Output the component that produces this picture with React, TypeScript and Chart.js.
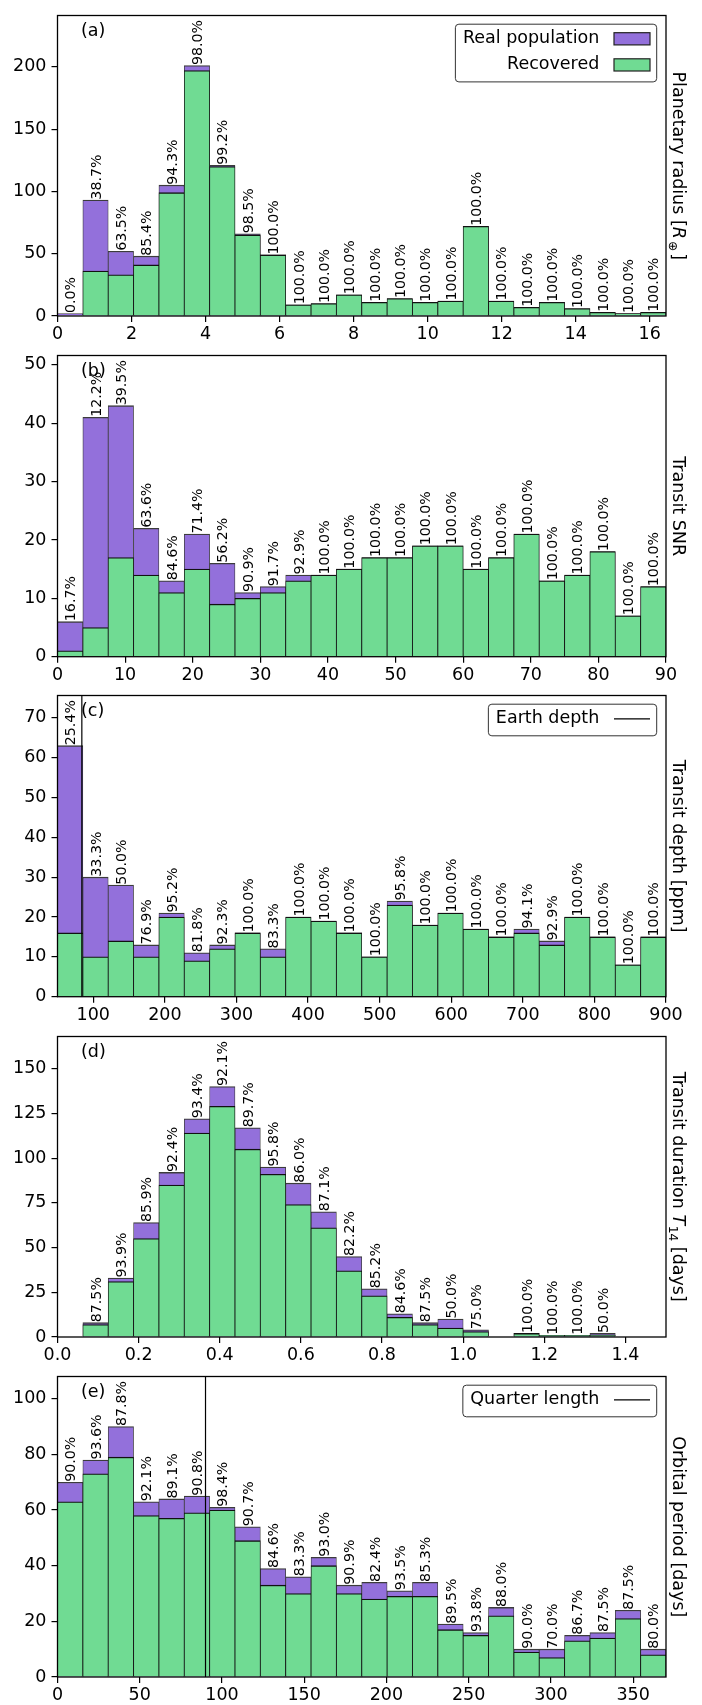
import React, { useEffect, useRef } from "react";
import { Chart, registerables } from "chart.js";

Chart.register(...registerables);

const FONT = '"DejaVu Sans", sans-serif';
const PURPLE = "#9370DB";
const GREEN = "#70DB93";

// ---------- (a) Planetary radius ----------
const radiusReal = [2, 93, 52, 48, 105, 201, 121, 66, 49, 9, 10, 17, 11, 14, 11, 12, 72, 12, 7, 11, 6, 3, 2, 3];
const radiusRecovered = [0, 36, 33, 41, 99, 197, 120, 65, 49, 9, 10, 17, 11, 14, 11, 12, 72, 12, 7, 11, 6, 3, 2, 3];
const radiusRange = [0, 16.44];
const radiusXTicks = [0, 2, 4, 6, 8, 10, 12, 14, 16];
const radiusYTicks = [0, 50, 100, 150, 200];

// ---------- (b) Transit SNR ----------
const snrReal = [6, 41, 43, 22, 13, 21, 16, 11, 12, 14, 14, 15, 17, 17, 19, 19, 15, 17, 21, 13, 14, 18, 7, 12];
const snrRecovered = [1, 5, 17, 14, 11, 15, 9, 10, 11, 13, 14, 15, 17, 17, 19, 19, 15, 17, 21, 13, 14, 18, 7, 12];
const snrRange = [0, 90];
const snrXTicks = [0, 10, 20, 30, 40, 50, 60, 70, 80, 90];
const snrYTicks = [0, 10, 20, 30, 40, 50];

// ---------- (c) Transit depth ----------
const depthReal = [63, 30, 28, 13, 21, 11, 13, 16, 12, 20, 19, 16, 10, 24, 18, 21, 17, 15, 17, 14, 20, 15, 8, 15];
const depthRecovered = [16, 10, 14, 10, 20, 9, 12, 16, 10, 20, 19, 16, 10, 23, 18, 21, 17, 15, 16, 13, 20, 15, 8, 15];
const depthRange = [50, 900];
const depthXTicks = [100, 200, 300, 400, 500, 600, 700, 800, 900];
const depthYTicks = [0, 10, 20, 30, 40, 50, 60, 70];
const earthDepth = 84;

// ---------- (d) Transit duration ----------
const durationReal = [0, 8, 33, 64, 92, 122, 140, 117, 95, 86, 70, 45, 27, 13, 8, 10, 4, 0, 2, 1, 1, 2, 0, 0];
const durationRecovered = [0, 7, 31, 55, 85, 114, 129, 105, 91, 74, 61, 37, 23, 11, 7, 5, 3, 0, 2, 1, 1, 1, 0, 0];
const durationRange = [0, 1.5];
const durationXTicks = [0, 0.2, 0.4, 0.6, 0.8, 1.0, 1.2, 1.4];
const durationYTicks = [0, 25, 50, 75, 100, 125, 150];

// ---------- (e) Orbital period ----------
const periodReal = [70, 78, 90, 63, 64, 65, 61, 54, 39, 36, 43, 33, 34, 31, 34, 19, 16, 25, 10, 10, 15, 16, 24, 10];
const periodRecovered = [63, 73, 79, 58, 57, 59, 60, 49, 33, 30, 40, 30, 28, 29, 29, 17, 15, 22, 9, 7, 13, 14, 21, 8];
const periodRange = [0, 370];
const periodXTicks = [0, 50, 100, 150, 200, 250, 300, 350];
const periodYTicks = [0, 20, 40, 60, 80, 100];
const quarterLength = 90;

type Part = { text: string; italic?: boolean; sub?: boolean; gap?: number };
type LegendRow = { label: string; kind: "patch" | "line"; color?: string };
type Panel = {
  letter: string;
  title: Part[];
  real: number[];
  recovered: number[];
  range: number[];
  xTicks: number[];
  yTicks: number[];
  xDecimals: number;
  vline?: { x: number; label: string };
  legend: LegendRow[];
};

const PANELS: Panel[] = [
  {
    letter: "(a)",
    title: [{ text: "Planetary radius [" }, { text: "R", italic: true, gap: 2 }, { text: "⊕", sub: true, gap: 2 }, { text: "]" }],
    real: radiusReal,
    recovered: radiusRecovered,
    range: radiusRange,
    xTicks: radiusXTicks,
    yTicks: radiusYTicks,
    xDecimals: 0,
    legend: [
      { label: "Real population", kind: "patch", color: PURPLE },
      { label: "Recovered", kind: "patch", color: GREEN },
    ],
  },
  {
    letter: "(b)",
    title: [{ text: "Transit SNR" }],
    real: snrReal,
    recovered: snrRecovered,
    range: snrRange,
    xTicks: snrXTicks,
    yTicks: snrYTicks,
    xDecimals: 0,
    legend: [],
  },
  {
    letter: "(c)",
    title: [{ text: "Transit depth [ppm]" }],
    real: depthReal,
    recovered: depthRecovered,
    range: depthRange,
    xTicks: depthXTicks,
    yTicks: depthYTicks,
    xDecimals: 0,
    vline: { x: earthDepth, label: "Earth depth" },
    legend: [{ label: "Earth depth", kind: "line" }],
  },
  {
    letter: "(d)",
    title: [{ text: "Transit duration " }, { text: "T", italic: true, gap: 0.5 }, { text: "14", sub: true, gap: 0 }, { text: " [days]" }],
    real: durationReal,
    recovered: durationRecovered,
    range: durationRange,
    xTicks: durationXTicks,
    yTicks: durationYTicks,
    xDecimals: 1,
    legend: [],
  },
  {
    letter: "(e)",
    title: [{ text: "Orbital period [days]" }],
    real: periodReal,
    recovered: periodRecovered,
    range: periodRange,
    xTicks: periodXTicks,
    yTicks: periodYTicks,
    xDecimals: 0,
    vline: { x: quarterLength, label: "Quarter length" },
    legend: [{ label: "Quarter length", kind: "line" }],
  },
];

// page layout (pixels)
const FRAMES = [
  { canvasTop: 0, height: 346, plotTop: 12.3, plotBottom: 316 },
  { canvasTop: 340, height: 346, plotTop: 352.3, plotBottom: 656.7 },
  { canvasTop: 680, height: 346, plotTop: 692.7, plotBottom: 996.7 },
  { canvasTop: 1021, height: 346, plotTop: 1033.3, plotBottom: 1337 },
  { canvasTop: 1361, height: 344, plotTop: 1373.7, plotBottom: 1677 },
];

const W = 702;
const PLOT_LEFT = 57.5;
const PLOT_RIGHT = 666;
const Y_AXIS_W = 50;
const FS = 17.5; // default text size
const PCT_FS = 14.2;

// one-decimal percentage, rounding halves to even (as Python's format does)
function pct(rec: number, real: number): string {
  const v = (rec / real) * 100;
  const x = v * 10;
  const fl = Math.floor(x);
  let r: number;
  if (Math.abs(x - fl - 0.5) < 1e-9) r = fl % 2 === 0 ? fl : fl + 1;
  else r = Math.round(x);
  return (r / 10).toFixed(1) + "%";
}

function buildConfig(p: Panel, f: (typeof FRAMES)[number]): any {
  const n = p.real.length;
  const w = (p.range[1] - p.range[0]) / n;
  const centers = p.real.map((_, i) => p.range[0] + (i + 0.5) * w);
  const yMax = Math.max(...p.real) * 1.2;
  const padTop = f.plotTop - f.canvasTop;
  const xAxisH = f.height - (f.plotBottom - f.canvasTop);

  const datasets: any[] = [];
  if (p.vline) {
    datasets.push({
      type: "line",
      label: p.vline.label,
      data: [
        { x: p.vline.x, y: 0 },
        { x: p.vline.x, y: yMax },
      ],
      borderColor: "#000",
      borderWidth: 1.2,
      pointRadius: 0,
      order: 0,
    });
  }
  const barCommon = {
    type: "bar",
    grouped: false,
    barPercentage: 1,
    categoryPercentage: 1,
    borderSkipped: false,
    borderWidth: { top: 1.3, left: 0.8, right: 0.8, bottom: 0 },
  };
  datasets.push({
    ...barCommon,
    label: "Recovered",
    data: centers.map((x, i) => ({ x, y: p.recovered[i] })),
    backgroundColor: GREEN,
    borderColor: "#111",
    order: 1,
  });
  datasets.push({
    ...barCommon,
    label: "Real population",
    data: centers.map((x, i) => ({ x, y: p.real[i] })),
    backgroundColor: PURPLE,
    borderColor: "#3c3c3c",
    order: 2,
  });

  const deco = {
    id: "deco",
    afterDatasetsDraw(chart: any) {
      const ctx: CanvasRenderingContext2D = chart.ctx;
      const a = chart.chartArea;
      const xs = chart.scales.x;
      const ys = chart.scales.y;
      ctx.save();
      // spines
      ctx.strokeStyle = "#000";
      ctx.lineWidth = 1.3;
      ctx.strokeRect(a.left, a.top, a.right - a.left, a.bottom - a.top);

      // percentage labels
      ctx.fillStyle = "#000";
      ctx.font = `${PCT_FS}px ${FONT}`;
      ctx.textAlign = "left";
      ctx.textBaseline = "alphabetic";
      p.real.forEach((r, i) => {
        if (r <= 0) return;
        const txt = pct(p.recovered[i], r);
        const px = xs.getPixelForValue(centers[i]);
        const py = ys.getPixelForValue(r);
        ctx.save();
        ctx.translate(px, py - 0.5);
        ctx.rotate(-Math.PI / 2);
        ctx.fillText(txt, 0, (0.729 * PCT_FS) / 2);
        ctx.restore();
      });

      // panel letter
      ctx.font = `${FS}px ${FONT}`;
      ctx.textAlign = "left";
      ctx.textBaseline = "middle";
      ctx.fillText(p.letter, a.left + 23.5, a.top + 15.5);

      // right-hand axis title
      ctx.save();
      ctx.translate(a.right + 6.5, (a.top + a.bottom) / 2);
      ctx.rotate(Math.PI / 2);
      const fonts = p.title.map((pt) =>
        pt.sub ? `${FS * 0.7}px ${FONT}` : pt.italic ? `italic ${FS}px ${FONT}` : `${FS}px ${FONT}`
      );
      const widths = p.title.map((pt, i) => {
        ctx.font = fonts[i];
        return ctx.measureText(pt.text).width + (pt.gap || 0);
      });
      const total = widths.reduce((s, v) => s + v, 0);
      let tx = -total / 2;
      ctx.textAlign = "left";
      ctx.textBaseline = "alphabetic";
      p.title.forEach((pt, i) => {
        ctx.font = fonts[i];
        ctx.fillText(pt.text, tx, pt.sub ? 3.8 : 0);
        tx += widths[i];
      });
      ctx.restore();

      // legend
      if (p.legend.length) {
        ctx.font = `${FS}px ${FONT}`;
        const textRight = a.right - 66.7;
        const maxW = Math.max(...p.legend.map((r) => ctx.measureText(r.label).width));
        const boxL = textRight - maxW - 7.5;
        const boxR = a.right - 9.3;
        const boxT = a.top + 8.7;
        const rowY = (i: number) => a.top + 23.3 + 26.1 * i;
        const boxB = rowY(p.legend.length - 1) + 17;
        const rad = 3.5;
        ctx.beginPath();
        ctx.moveTo(boxL + rad, boxT);
        ctx.lineTo(boxR - rad, boxT);
        ctx.arcTo(boxR, boxT, boxR, boxT + rad, rad);
        ctx.lineTo(boxR, boxB - rad);
        ctx.arcTo(boxR, boxB, boxR - rad, boxB, rad);
        ctx.lineTo(boxL + rad, boxB);
        ctx.arcTo(boxL, boxB, boxL, boxB - rad, rad);
        ctx.lineTo(boxL, boxT + rad);
        ctx.arcTo(boxL, boxT, boxL + rad, boxT, rad);
        ctx.closePath();
        ctx.fillStyle = "rgba(255,255,255,0.8)";
        ctx.fill();
        ctx.strokeStyle = "#333";
        ctx.lineWidth = 1;
        ctx.stroke();

        const sx0 = a.right - 52;
        const sx1 = a.right - 16;
        p.legend.forEach((r, i) => {
          const cy = rowY(i);
          ctx.fillStyle = "#000";
          ctx.textAlign = "right";
          ctx.textBaseline = "middle";
          ctx.fillText(r.label, textRight, cy);
          if (r.kind === "patch") {
            ctx.fillStyle = r.color || "#000";
            ctx.fillRect(sx0, cy - 6.1, sx1 - sx0, 12.2);
            ctx.strokeStyle = "#222";
            ctx.lineWidth = 1.2;
            ctx.strokeRect(sx0, cy - 6.1, sx1 - sx0, 12.2);
          } else {
            ctx.strokeStyle = "#000";
            ctx.lineWidth = 1.2;
            ctx.beginPath();
            ctx.moveTo(sx0, cy);
            ctx.lineTo(sx1, cy);
            ctx.stroke();
          }
        });
      }
      ctx.restore();
    },
  };

  return {
    type: "bar",
    data: { datasets },
    options: {
      responsive: false,
      maintainAspectRatio: false,
      animation: false,
      devicePixelRatio: 1,
      events: [],
      layout: {
        padding: { left: PLOT_LEFT - Y_AXIS_W, right: W - PLOT_RIGHT, top: padTop, bottom: 0 },
      },
      plugins: { legend: { display: false }, tooltip: { enabled: false }, title: { display: false } },
      scales: {
        x: {
          type: "linear",
          min: p.range[0],
          max: p.range[1],
          offset: false,
          grid: {
            display: true,
            drawOnChartArea: false,
            drawTicks: true,
            tickLength: 6,
            color: "#000",
            lineWidth: 1.2,
            offset: false,
          },
          border: { display: false },
          ticks: {
            color: "#000",
            font: { family: FONT, size: FS },
            padding: 2,
            maxRotation: 0,
            minRotation: 0,
            autoSkip: false,
            callback: (v: number) => Number(v).toFixed(p.xDecimals),
          },
          afterBuildTicks: (s: any) => {
            s.ticks = p.xTicks.map((v) => ({ value: v }));
          },
          afterFit: (s: any) => {
            s.height = xAxisH;
          },
        },
        y: {
          type: "linear",
          min: 0,
          max: yMax,
          grid: {
            display: true,
            drawOnChartArea: false,
            drawTicks: true,
            tickLength: 6,
            color: "#000",
            lineWidth: 1.2,
          },
          border: { display: false },
          ticks: {
            color: "#000",
            font: { family: FONT, size: FS },
            padding: 5,
            autoSkip: false,
            callback: (v: number) => String(v),
          },
          afterBuildTicks: (s: any) => {
            s.ticks = p.yTicks.map((v) => ({ value: v }));
          },
          afterFit: (s: any) => {
            s.width = Y_AXIS_W;
          },
        },
      },
    },
    plugins: [deco],
  };
}

function PanelChart({ panel, frame }: { panel: Panel; frame: (typeof FRAMES)[number] }) {
  const ref = useRef<HTMLCanvasElement | null>(null);
  useEffect(() => {
    if (!ref.current) return;
    const chart = new Chart(ref.current, buildConfig(panel, frame));
    return () => chart.destroy();
  }, [panel, frame]);
  return (
    <canvas
      ref={ref}
      width={W}
      height={frame.height}
      style={{
        position: "absolute",
        left: 0,
        top: frame.canvasTop,
        width: `${W}px`,
        height: `${frame.height}px`,
      }}
    />
  );
}

export default function App() {
  return (
    <div
      style={{
        position: "absolute",
        left: 0,
        top: 0,
        width: `${W}px`,
        height: "1705px",
        overflow: "hidden",
        background: "#fff",
        fontFamily: FONT,
      }}
    >
      {PANELS.map((p, i) => (
        <PanelChart key={p.letter} panel={p} frame={FRAMES[i]} />
      ))}
    </div>
  );
}
